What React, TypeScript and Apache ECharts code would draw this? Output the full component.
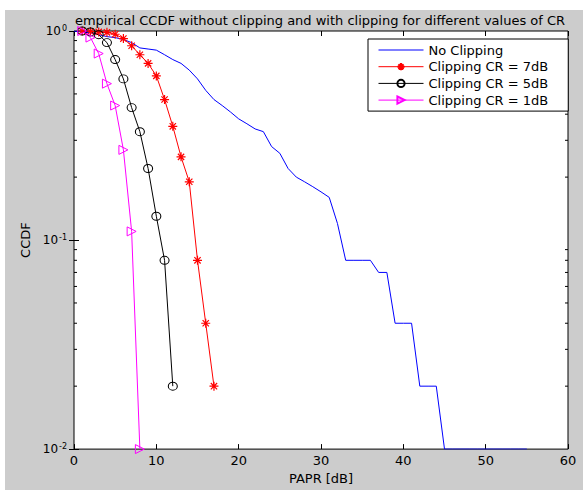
import React, { useEffect, useRef } from "react";
import * as echarts from "echarts";

const titleText = "empirical CCDF without clipping and with clipping for different values of CR";
const xTicks = [0, 10, 20, 30, 40, 50, 60];
const seriesNames = ["No Clipping", "Clipping CR = 7dB", "Clipping CR = 5dB", "Clipping CR = 1dB"];

const noClipX = [0,1,2,3,4,5,6,7,8,9,10,11,12,13,14,15,16,17,18,19,20,21,22,23,24,25,26,27,28,29,30,31,32,33,34,35,36,37,38,39,40,41,42,43,44,45,46,47,48,49,50,51,52,53,54,55];
const noClipY = [1.0,0.99,0.98,0.96,0.94,0.93,0.91,0.88,0.83,0.82,0.81,0.77,0.73,0.70,0.65,0.59,0.52,0.47,0.44,0.41,0.38,0.36,0.34,0.33,0.28,0.26,0.22,0.20,0.19,0.18,0.17,0.16,0.12,0.08,0.08,0.08,0.08,0.07,0.07,0.04,0.04,0.04,0.02,0.02,0.02,0.01,0.01,0.01,0.01,0.01,0.01,0.01,0.01,0.01,0.01,0.01];

const cr7X = [1,2,3,4,5,6,7,8,9,10,11,12,13,14,15,16,17];
const cr7Y = [1.0,0.995,0.99,0.985,0.965,0.92,0.85,0.77,0.70,0.61,0.47,0.35,0.25,0.19,0.08,0.04,0.02];

const cr5X = [1,2,3,4,5,6,7,8,9,10,11,12];
const cr5Y = [1.0,0.99,0.96,0.88,0.73,0.59,0.43,0.33,0.22,0.13,0.08,0.02];

const cr1X = [1,2,3,4,5,6,7,8];
const cr1Y = [1.0,0.93,0.78,0.56,0.44,0.27,0.11,0.01];

const minorTickValues = [0.02,0.03,0.04,0.05,0.06,0.07,0.08,0.09,0.2,0.3,0.4,0.5,0.6,0.7,0.8,0.9];

const zip = (xs: number[], ys: number[]) => xs.map((x, i) => [x, ys[i]]);

const FONT = "'DejaVu Sans', Verdana, sans-serif";
const STAR = "path://M5,0L5,10M0,5L10,5M1.5,1.5L8.5,8.5M1.5,8.5L8.5,1.5";
const CIRCLE = "path://M10,5A5,5 0 1 1 0,5A5,5 0 1 1 10,5Z";
const TRI = "path://M0,0L10,5L0,10Z";
const HLINE = "path://M0,0L45,0L45,1L0,1Z";

export default function App() {
  const ref = useRef<HTMLDivElement>(null);
  useEffect(() => {
    if (!ref.current) return;
    const chart = echarts.init(ref.current, null, { renderer: "svg" });
    const yLabel = {
      fontFamily: FONT,
      color: "#000",
      margin: 7,
      formatter: (v: number) => "{b|10}{s|" + Math.round(Math.log10(v)) + "}",
      rich: {
        b: { fontSize: 12, fontFamily: FONT, color: "#000" },
        s: { fontSize: 8, fontFamily: FONT, color: "#000", verticalAlign: "top", padding: [0, 0, 6, 1] },
      },
    };
    const option: any = {
      animation: false,
      backgroundColor: "#fff",
      textStyle: { fontFamily: FONT },
      graphic: [
        { type: "rect", z: -100, shape: { x: 5, y: 10, width: 578, height: 480 }, style: { fill: "#cccccc" } },
        { type: "text", x: 320, y: 20, style: { text: titleText, font: "13px " + FONT, fill: "#000", textAlign: "center", textVerticalAlign: "middle" } },
      ],
      grid: { left: 74, top: 31, width: 494, height: 425, show: true, backgroundColor: "#fff", borderColor: "#000", borderWidth: 1 },
      legend: {
        data: [
          { name: seriesNames[0], icon: HLINE },
          { name: seriesNames[1] },
          { name: seriesNames[2] },
          { name: seriesNames[3] },
        ],
        orient: "vertical",
        left: 368,
        top: 39,
        backgroundColor: "#fff",
        borderColor: "#000",
        borderWidth: 1,
        borderRadius: 0,
        padding: [4, 20, 4, 10],
        itemWidth: 45,
        itemHeight: 9,
        itemGap: 2.7,
        lineStyle: { width: 1 },
        textStyle: { fontSize: 13, lineHeight: 14, fontFamily: FONT, color: "#000" },
        z: 10,
      },
      xAxis: [
        {
          type: "value", min: 0, max: 60, interval: 10, position: "bottom",
          name: "PAPR [dB]", nameLocation: "middle", nameGap: 18,
          nameTextStyle: { fontSize: 13, fontFamily: FONT, color: "#000" },
          axisLine: { show: false },
          axisTick: { show: true, inside: true, length: 5, lineStyle: { color: "#000" } },
          axisLabel: { fontSize: 13, fontFamily: FONT, color: "#000", margin: 5, customValues: xTicks },
          splitLine: { show: false },
        },
        {
          type: "value", min: 0, max: 60, interval: 10, position: "top",
          axisLine: { show: false },
          axisTick: { show: true, inside: true, length: 5, lineStyle: { color: "#000" } },
          axisLabel: { show: false },
          splitLine: { show: false },
        },
      ],
      yAxis: [
        {
          type: "log", min: 0.01, max: 1, logBase: 10, position: "left",
          name: "CCDF", nameLocation: "middle", nameGap: 40, nameRotate: 90,
          nameTextStyle: { fontSize: 13, fontFamily: FONT, color: "#000" },
          axisLine: { show: false },
          axisTick: { show: true, inside: true, length: 5, lineStyle: { color: "#000" } },
          axisLabel: yLabel,
          splitLine: { show: false },
        },
        {
          type: "log", min: 0.01, max: 1, logBase: 10, position: "right",
          axisLine: { show: false },
          axisTick: { show: true, inside: true, length: 5, lineStyle: { color: "#000" } },
          axisLabel: { show: false },
          splitLine: { show: false },
        },
      ],
      series: [
        {
          name: seriesNames[0], type: "line", data: zip(noClipX, noClipY),
          symbol: "none", showSymbol: false,
          lineStyle: { color: "#0000ff", width: 1 }, itemStyle: { color: "#0000ff" },
        },
        {
          name: seriesNames[1], type: "line", data: zip(cr7X, cr7Y),
          symbol: STAR, symbolSize: 9,
          lineStyle: { color: "#ff0000", width: 1 },
          itemStyle: { color: "#ff0000", borderColor: "#ff0000", borderWidth: 1.2 },
        },
        {
          name: seriesNames[2], type: "line", data: zip(cr5X, cr5Y),
          symbol: CIRCLE, symbolSize: [9, 8],
          lineStyle: { color: "#000000", width: 1 },
          itemStyle: { color: "rgba(255,255,255,0)", borderColor: "#000000", borderWidth: 1 },
        },
        {
          name: seriesNames[3], type: "line", data: zip(cr1X, cr1Y),
          symbol: TRI, symbolSize: [9, 9],
          lineStyle: { color: "#ff00ff", width: 1 },
          itemStyle: { color: "rgba(255,255,255,0)", borderColor: "#ff00ff", borderWidth: 1 },
        },
        {
          type: "custom",
          silent: true,
          clip: false,
          data: minorTickValues.map((v) => [0, v]),
          encode: { x: 0, y: 1 },
          renderItem: (params: any, api: any) => {
            const v = api.value(1);
            const l = api.coord([0, v]);
            const r = api.coord([60, v]);
            return {
              type: "group",
              children: [
                { type: "line", shape: { x1: l[0], y1: l[1], x2: l[0] + 3, y2: l[1] }, style: { stroke: "#000", lineWidth: 1 } },
                { type: "line", shape: { x1: r[0], y1: r[1], x2: r[0] - 3, y2: r[1] }, style: { stroke: "#000", lineWidth: 1 } },
              ],
            };
          },
        },
      ],
    };
    chart.setOption(option);
    return () => chart.dispose();
  }, []);
  return <div ref={ref} style={{ position: "absolute", left: 0, top: 0, width: 583, height: 490 }} />;
}
